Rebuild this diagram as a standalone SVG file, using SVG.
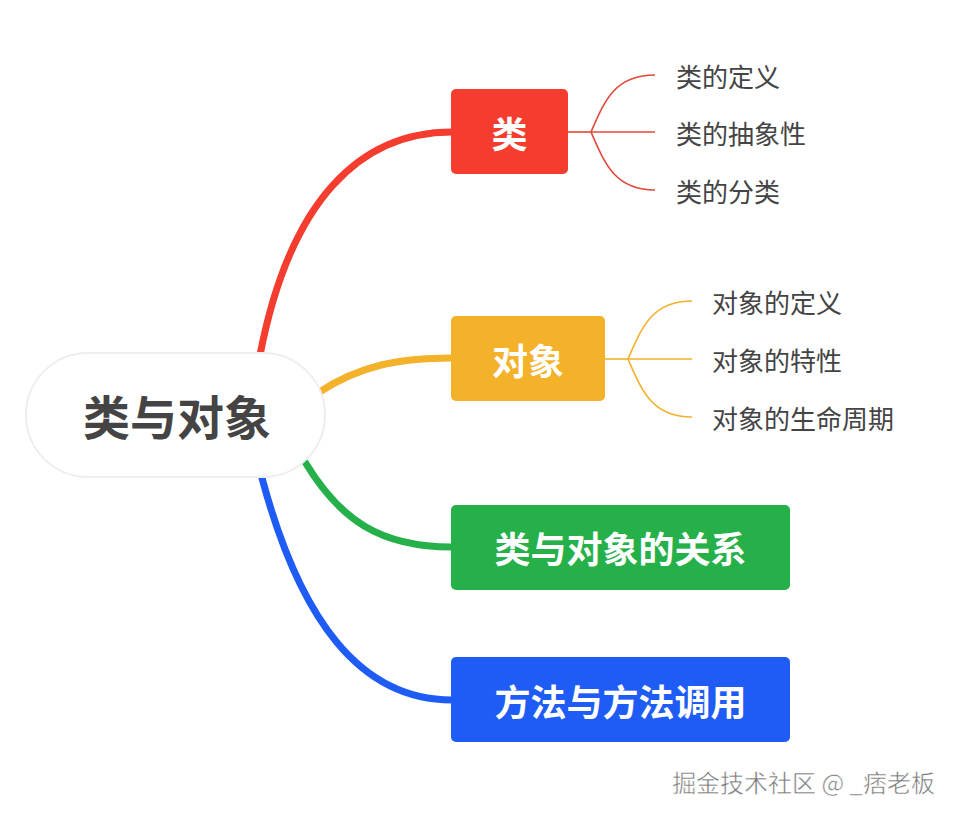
<svg xmlns="http://www.w3.org/2000/svg" width="958" height="819" viewBox="0 0 958 819">
<style>
.t{font-family:"Noto Sans CJK SC",sans-serif;fill:#fff;font-weight:bold;font-size:36px;text-anchor:middle;dominant-baseline:central}
.s{font-family:"Noto Sans CJK SC",sans-serif;fill:#444;font-size:26px;dominant-baseline:central}
.c{fill:none;stroke-linecap:round}
</style>
<rect width="958" height="819" fill="#fff"/>
<g id="connectors">
<path class="c" d="M260,355 C290,200 360,132 452,132" stroke="#f53d2f" stroke-width="7"/>
<path class="c" d="M318,393 C360,365 400,358 452,358" stroke="#f4b12a" stroke-width="7"/>
<path class="c" d="M305,462 C340,520 380,547 452,547" stroke="#25b04a" stroke-width="7"/>
<path class="c" d="M262,478 C300,620 360,700 452,700" stroke="#1f5cf5" stroke-width="7"/>
<g stroke="#e2483b" stroke-width="1.6" fill="none">
<path d="M568,132 H591"/>
<path d="M591,132 C605,100 615,75 655,75"/>
<path d="M591,132 H655"/>
<path d="M591,132 C605,164 615,190 655,190"/>
</g>
<g stroke="#f4b12a" stroke-width="1.6" fill="none">
<path d="M605,359 H628"/>
<path d="M628,359 C642,327 652,301 692,301"/>
<path d="M628,359 H692"/>
<path d="M628,359 C642,391 652,417 692,417"/>
</g>
</g>
<g id="root">
<rect x="26" y="353" width="299" height="124" rx="62" fill="#fff" stroke="#eee" stroke-width="2"/>
<text x="177" y="414" class="t" style="fill:#444;font-size:47px">类与对象</text>
</g>
<g id="n1"><rect x="451" y="89" width="117" height="85" rx="5" fill="#f53d2f"/><text x="509.5" y="132" class="t">类</text></g>
<g id="n2"><rect x="451" y="316" width="154" height="85" rx="5" fill="#f4b12a"/><text x="528" y="359" class="t">对象</text></g>
<g id="n3"><rect x="451" y="505" width="339" height="85" rx="5" fill="#25b04a"/><text x="620.5" y="547" class="t">类与对象的关系</text></g>
<g id="n4"><rect x="451" y="657" width="339" height="85" rx="5" fill="#1f5cf5"/><text x="620.5" y="700" class="t">方法与方法调用</text></g>
<g id="n1a"><text x="676" y="75" class="s">类的定义</text></g>
<g id="n1b"><text x="676" y="132" class="s">类的抽象性</text></g>
<g id="n1c"><text x="676" y="190" class="s">类的分类</text></g>
<g id="n2a"><text x="712" y="301" class="s">对象的定义</text></g>
<g id="n2b"><text x="712" y="359" class="s">对象的特性</text></g>
<g id="n2c"><text x="712" y="417" class="s">对象的生命周期</text></g>
<text x="935" y="781" class="s" style="text-anchor:end;font-size:24px;fill:#777;stroke:#fff;stroke-width:0.5">掘金技术社区 @ _痞老板</text>
</svg>
